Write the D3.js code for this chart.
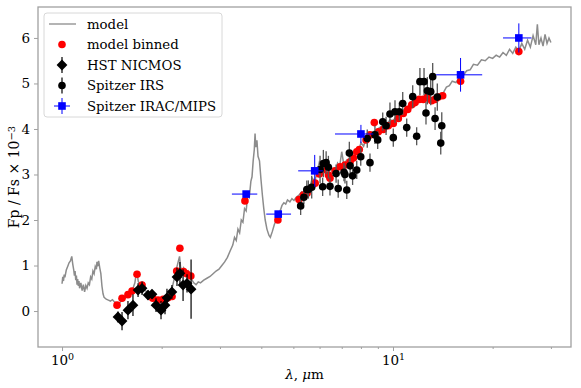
<!DOCTYPE html>
<html lang="en">
<head>
<meta charset="UTF-8">
<title>Fp/Fs spectrum</title>
<script src="https://d3js.org/d3.v7.min.js"></script>
<style>
    body { margin: 0; background: #fff; }
    text { font-family: "DejaVu Serif", serif; }
</style>
</head>
<body>
<div id="my_dataviz"></div>
<script>
// model spectrum
var modelWl = [1.000,1.005,1.010,1.015,1.020,1.030,1.040,1.050,1.060,1.070,1.078,1.085,1.090,1.095,1.100,1.105,1.110,1.115,1.120,1.125,
    1.130,1.140,1.150,1.160,1.170,1.180,1.190,1.200,1.210,1.220,1.230,1.240,1.250,1.260,1.270,1.275,1.280,1.290,1.300,1.310,
    1.320,1.330,1.340,1.360,1.380,1.400,1.420,1.440,1.460,1.480,1.500,1.530,1.560,1.600,1.630,1.660,1.680,1.700,1.720,1.750,
    1.780,1.810,1.850,1.900,1.950,2.000,2.050,2.100,2.150,2.190,2.220,2.250,2.265,2.280,2.300,2.330,2.360,2.400,2.430,2.460,
    2.500,2.540,2.580,2.620,2.680,2.740,2.800,2.860,2.920,2.980,3.040,3.100,3.160,3.220,3.280,3.320,3.360,3.400,3.440,3.480,
    3.520,3.560,3.600,3.640,3.680,3.720,3.750,3.780,3.810,3.830,3.850,3.880,3.910,3.950,3.990,4.030,4.070,4.110,4.160,4.220,
    4.260,4.320,4.380,4.440,4.500,4.560,4.620,4.680,4.740,4.800,4.880,4.950,5.020,5.100,5.200,5.300,5.400,5.500,5.600,5.700,
    5.800,5.900,6.000,6.100,6.200,6.300,6.400,6.500,6.600,6.700,6.800,6.900,7.000,7.100,7.250,7.400,7.550,7.700,7.850,8.000,
    8.150,8.300,8.450,8.600,8.800,9.000,9.200,9.400,9.600,9.800,10.00,10.30,10.60,10.90,11.20,11.50,11.80,12.10,12.40,12.70,
    13.00,13.30,13.60,13.90,14.20,14.50,14.80,15.10,15.50,15.90,16.30,16.70,17.10,17.50,18.00,18.50,19.00,19.50,20.00,20.50,
    21.00,21.50,22.00,22.50,23.00,23.50,24.00,24.50,25.00,25.50,26.00,26.50,27.00,27.30,27.60,28.00,28.40,28.80,29.20,29.60,30.00];
var modelFp = [0.60,0.75,0.66,0.80,0.74,0.90,0.98,1.06,1.10,1.20,1.02,0.90,0.78,0.88,0.68,0.78,0.58,0.70,0.55,0.66,
    0.50,0.62,0.45,0.58,0.42,0.56,0.50,0.62,0.58,0.75,0.70,0.88,0.82,0.98,0.92,1.08,0.98,1.10,0.95,0.82,
    0.55,0.38,0.30,0.26,0.24,0.22,0.25,0.20,0.18,0.15,0.20,0.26,0.30,0.38,0.45,0.62,0.88,0.65,0.58,0.55,
    0.45,0.42,0.32,0.28,0.24,0.27,0.30,0.33,0.50,0.75,0.95,1.12,1.20,0.98,0.88,0.95,0.82,0.88,0.72,0.70,
    0.62,0.58,0.64,0.62,0.68,0.72,0.76,0.82,0.88,0.92,1.00,1.08,1.18,1.32,1.45,1.62,1.55,1.80,1.72,2.00,
    1.95,2.25,2.20,2.55,2.50,2.85,2.95,3.30,3.55,3.90,3.60,3.75,3.40,3.30,2.90,2.55,2.25,2.00,1.80,1.66,
    1.62,1.75,1.90,2.00,2.10,2.20,2.32,2.38,2.35,2.44,2.40,2.47,2.43,2.50,2.55,2.62,2.58,2.75,2.70,2.92,
    2.85,3.05,3.30,3.05,3.15,3.00,3.10,2.95,3.12,3.05,3.25,3.18,3.50,3.22,3.32,3.28,3.45,3.52,3.48,3.70,
    3.62,3.80,3.78,3.92,3.95,4.00,4.05,4.10,4.12,4.20,4.18,4.30,4.38,4.45,4.52,4.58,4.62,4.65,4.62,4.70,
    4.66,4.70,4.72,4.78,4.80,4.92,4.95,5.05,5.02,5.15,5.18,5.28,5.30,5.42,5.40,5.52,5.50,5.58,5.55,5.62,
    5.58,5.68,5.62,5.75,5.66,5.80,5.72,5.88,5.75,5.95,5.80,6.05,5.85,6.30,5.85,6.00,5.82,6.08,5.88,6.00,5.90];

// model binned
var binWl = [1.466,1.518,1.582,1.627,1.685,1.745,1.88,1.95,2.02,2.09,2.15,2.22,2.27,2.33,2.38,2.45,
    3.57,4.49,5.20,5.36,5.50,5.82,5.99,6.13,6.38,6.45,6.68,6.92,7.16,7.42,7.59,7.77,7.91,8.29,8.52,8.78,
    9.03,9.35,9.68,10.02,10.38,10.74,11.08,11.39,11.66,12.01,12.35,12.70,13.09,13.40,13.71,14.13,16.0,24.0];
var binFp = [0.13,0.28,0.36,0.44,0.81,0.57,0.28,0.24,0.26,0.29,0.32,0.88,1.38,0.87,0.82,0.77,
    2.42,2.00,2.45,2.55,2.59,2.81,3.01,3.10,2.99,2.92,3.08,3.17,3.21,3.28,3.36,3.50,3.55,3.76,3.87,4.14,
    3.94,3.99,4.07,4.12,4.23,4.34,4.43,4.53,4.58,4.65,4.65,4.70,4.62,4.65,4.70,4.73,5.05,5.70];

// HST NICMOS
var nicWl  = [1.476,1.518,1.582,1.638,1.697,1.745,1.819,1.870,1.923,1.991,2.047,2.075,2.148,2.225,2.271,2.321,2.386,2.454];
var nicFp  = [-0.13,-0.22,0.02,0.13,0.46,0.50,0.35,0.37,0.13,0.02,0.13,0.29,0.42,0.75,0.83,0.57,0.61,0.48];
var nicErr = [0.12,0.20,0.20,0.24,0.15,0.15,0.10,0.10,0.15,0.20,0.20,0.20,0.15,0.20,0.25,0.35,0.20,0.65];

// Spitzer IRS
var irsWl  = [5.26,5.38,5.49,5.55,5.68,6.02,6.13,6.16,6.28,6.38,6.45,6.73,6.83,7.11,7.16,7.25,7.38,7.42,7.55,7.77,
    7.99,8.36,8.52,8.82,8.99,9.31,9.53,9.79,10.02,10.14,10.45,10.70,11.00,11.47,11.79,12.06,12.41,12.58,12.70,13.00,
    13.18,13.40,13.61,13.94,14.04];
var irsFp  = [2.31,2.50,2.67,2.67,2.72,3.11,2.73,3.24,3.26,3.16,2.74,3.02,2.69,3.05,3.00,2.66,3.47,3.19,2.97,3.10,
    3.39,3.79,3.26,3.87,3.76,4.16,4.07,4.33,3.81,4.38,4.38,4.56,4.03,4.71,3.84,5.04,5.04,4.35,4.84,4.82,
    5.15,4.23,4.70,3.69,4.07];
var irsErr = [0.20,0.15,0.20,0.20,0.25,0.30,0.20,0.30,0.25,0.25,0.20,0.20,0.20,0.20,0.20,0.20,0.25,0.20,0.20,0.20,
    0.20,0.20,0.20,0.20,0.20,0.20,0.20,0.25,0.20,0.25,0.20,0.25,0.20,0.25,0.20,0.30,0.30,0.25,0.30,0.30,
    0.30,0.25,0.30,0.25,0.30];

// Spitzer IRAC/MIPS photometry
var photWl  = [3.6,4.5,5.8,8.0,16.0,24.0];
var photFp  = [2.57,2.13,3.08,3.89,5.19,6.00];
var photErr = [0.06,0.06,0.35,0.20,0.37,0.32];
var photLo  = [3.26,4.14,5.17,6.68,13.5,21.5];
var photHi  = [3.89,4.92,6.14,8.72,18.6,26.2];

var yTicks = [0,1,2,3,4,5,6];
var xMajor = [1,10];
var xMinor = [2,3,4,5,6,7,8,9,20,30];
var legendLabels = ["model","model binned","HST NICMOS","Spitzer IRS","Spitzer IRAC/MIPS"];

var W = 581, H = 388;
var margin = {top: 7, right: 10, bottom: 41, left: 38};

var svg = d3.select("#my_dataviz").append("svg")
    .attr("width", W).attr("height", H);

var x = d3.scaleLog().domain([0.846, 34.5]).range([margin.left, W - margin.right]);
var y = d3.scaleLinear().domain([-0.79, 6.68]).range([H - margin.bottom, margin.top]);

var spine = "#a0a0a0";

// axes
var gx = svg.append("g").attr("transform", "translate(0," + (H - margin.bottom) + ")");
gx.call(d3.axisBottom(x).tickValues(xMajor).tickSize(4).tickPadding(4).tickFormat(""));
gx.selectAll(".tick text").each(function(d) {
    var t = d3.select(this);
    t.append("tspan").text("10");
    t.append("tspan").attr("dy", "-0.45em").attr("font-size", "9.5px").text(Math.round(Math.log10(d)));
});
var gxm = svg.append("g").attr("transform", "translate(0," + (H - margin.bottom) + ")");
gxm.call(d3.axisBottom(x).tickValues(xMinor).tickSize(2).tickFormat(""));

var gy = svg.append("g").attr("transform", "translate(" + margin.left + ",0)");
gy.call(d3.axisLeft(y).tickValues(yTicks).tickSize(4).tickPadding(4));

[gx, gxm, gy].forEach(function(g) {
    g.select(".domain").remove();
    g.selectAll(".tick line").attr("stroke", spine);
    g.selectAll(".tick text").attr("fill", "#000").style("font-family", "DejaVu Serif").style("font-size", "13.5px");
});

// frame
svg.append("rect")
    .attr("x", margin.left).attr("y", margin.top)
    .attr("width", W - margin.left - margin.right)
    .attr("height", H - margin.top - margin.bottom)
    .attr("fill", "none").attr("stroke", spine).attr("stroke-width", 1.3);

var plot = svg.append("g");

// model line
var model = modelWl.map(function(d, i) { return [d, modelFp[i]]; });
plot.append("path")
    .datum(model)
    .attr("fill", "none")
    .attr("stroke", "#8c8c8c")
    .attr("stroke-width", 1.5)
    .attr("d", d3.line().x(function(d) { return x(d[0]); }).y(function(d) { return y(d[1]); }));

// model binned
plot.append("g").selectAll("circle")
    .data(binWl).enter().append("circle")
    .attr("cx", function(d) { return x(d); })
    .attr("cy", function(d, i) { return y(binFp[i]); })
    .attr("r", 3.8)
    .attr("fill", "red");

// HST NICMOS
plot.append("g").selectAll("line")
    .data(nicWl).enter().append("line")
    .attr("x1", function(d) { return x(d); }).attr("x2", function(d) { return x(d); })
    .attr("y1", function(d, i) { return y(nicFp[i] - nicErr[i]); })
    .attr("y2", function(d, i) { return y(nicFp[i] + nicErr[i]); })
    .attr("stroke", "#000").attr("stroke-width", 1.2);
var diamond = d3.symbol().type(d3.symbolSquare).size(58);
plot.append("g").selectAll("path")
    .data(nicWl).enter().append("path")
    .attr("d", diamond)
    .attr("transform", function(d, i) { return "translate(" + x(d) + "," + y(nicFp[i]) + ") rotate(45)"; })
    .attr("fill", "#000");

// Spitzer IRS
plot.append("g").selectAll("line")
    .data(irsWl).enter().append("line")
    .attr("x1", function(d) { return x(d); }).attr("x2", function(d) { return x(d); })
    .attr("y1", function(d, i) { return y(irsFp[i] - irsErr[i]); })
    .attr("y2", function(d, i) { return y(irsFp[i] + irsErr[i]); })
    .attr("stroke", "#555").attr("stroke-width", 1.3);
plot.append("g").selectAll("circle")
    .data(irsWl).enter().append("circle")
    .attr("cx", function(d) { return x(d); })
    .attr("cy", function(d, i) { return y(irsFp[i]); })
    .attr("r", 3.8)
    .attr("fill", "#000");

// Spitzer IRAC/MIPS
var phot = plot.append("g");
phot.selectAll("line.h")
    .data(photWl).enter().append("line").attr("class", "h")
    .attr("x1", function(d, i) { return x(photLo[i]); })
    .attr("x2", function(d, i) { return x(photHi[i]); })
    .attr("y1", function(d, i) { return y(photFp[i]); })
    .attr("y2", function(d, i) { return y(photFp[i]); })
    .attr("stroke", "blue").attr("stroke-width", 1);
phot.selectAll("line.v")
    .data(photWl).enter().append("line").attr("class", "v")
    .attr("x1", function(d) { return x(d); }).attr("x2", function(d) { return x(d); })
    .attr("y1", function(d, i) { return y(photFp[i] - photErr[i]); })
    .attr("y2", function(d, i) { return y(photFp[i] + photErr[i]); })
    .attr("stroke", "blue").attr("stroke-width", 1);
phot.selectAll("rect")
    .data(photWl).enter().append("rect")
    .attr("x", function(d) { return x(d) - 3.8; })
    .attr("y", function(d, i) { return y(photFp[i]) - 3.8; })
    .attr("width", 7.6).attr("height", 7.6)
    .attr("fill", "blue");

// legend
var lg = svg.append("g").attr("transform", "translate(44,13)");
lg.append("rect")
    .attr("width", 178).attr("height", 104).attr("rx", 3)
    .attr("fill", "#fff").attr("fill-opacity", 0.8)
    .attr("stroke", "#d8d8d8");
var rowY = function(i) { return 11 + i * 20.5; };
var hx = 18;
lg.append("line").attr("x1", 5).attr("x2", 32).attr("y1", rowY(0)).attr("y2", rowY(0))
    .attr("stroke", "#8c8c8c").attr("stroke-width", 1.3);
lg.append("circle").attr("cx", hx).attr("cy", rowY(1)).attr("r", 3.8).attr("fill", "red");
lg.append("line").attr("x1", hx).attr("x2", hx).attr("y1", rowY(2) - 8).attr("y2", rowY(2) + 8)
    .attr("stroke", "#000").attr("stroke-width", 1.2);
lg.append("path").attr("d", diamond)
    .attr("transform", "translate(" + hx + "," + rowY(2) + ") rotate(45)").attr("fill", "#000");
lg.append("line").attr("x1", hx).attr("x2", hx).attr("y1", rowY(3) - 8).attr("y2", rowY(3) + 8)
    .attr("stroke", "#000").attr("stroke-width", 1.2);
lg.append("circle").attr("cx", hx).attr("cy", rowY(3)).attr("r", 3.8).attr("fill", "#000");
lg.append("line").attr("x1", hx).attr("x2", hx).attr("y1", rowY(4) - 8).attr("y2", rowY(4) + 8)
    .attr("stroke", "blue");
lg.append("line").attr("x1", hx - 8).attr("x2", hx + 8).attr("y1", rowY(4)).attr("y2", rowY(4))
    .attr("stroke", "blue");
lg.append("rect").attr("x", hx - 3.8).attr("y", rowY(4) - 3.8).attr("width", 7.6).attr("height", 7.6)
    .attr("fill", "blue");
lg.selectAll("text.lbl")
    .data(legendLabels).enter().append("text").attr("class", "lbl")
    .attr("x", 43)
    .attr("y", function(d, i) { return rowY(i); })
    .attr("dy", "0.35em")
    .style("font-size", "13.3px")
    .text(function(d) { return d; });

// axis labels
var xl = svg.append("text")
    .attr("x", (margin.left + W - margin.right) / 2)
    .attr("y", 379)
    .attr("text-anchor", "middle")
    .style("font-size", "13.5px");
xl.append("tspan").style("font-style", "italic").text("λ");
xl.append("tspan").text(", ");
xl.append("tspan").style("font-style", "italic").text("μ");
xl.append("tspan").text("m");

var yl = svg.append("text")
    .attr("transform", "translate(19," + ((margin.top + H - margin.bottom) / 2) + ") rotate(-90)")
    .attr("text-anchor", "middle")
    .style("font-size", "14px");
yl.append("tspan").text("Fp / Fs × 10");
yl.append("tspan").attr("dy", "-0.45em").style("font-size", "10px").text("−3");
</script>
</body>
</html>
